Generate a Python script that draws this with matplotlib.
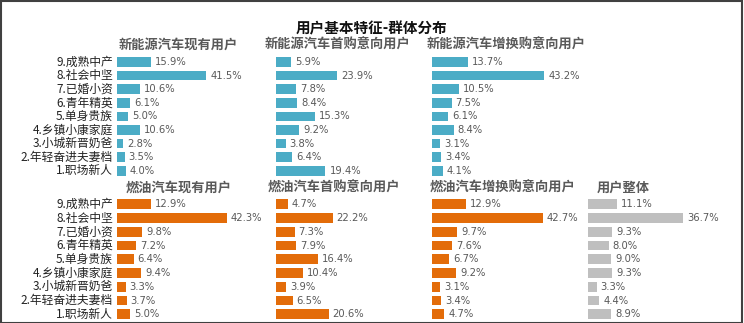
import matplotlib
matplotlib.use('Agg')
import matplotlib.pyplot as plt
from matplotlib.patches import Rectangle

plt.rcParams['font.family'] = ['Noto Sans CJK SC', 'DejaVu Sans']

# Data (percent)
categories = ['9.成熟中产', '8.社会中坚', '7.已婚小资', '6.青年精英', '5.单身贵族',
              '4.乡镇小康家庭', '3.小城新晋奶爸', '2.年轻奋进夫妻档', '1.职场新人']
ev_owner = [15.9, 41.5, 10.6, 6.1, 5.0, 10.6, 2.8, 3.5, 4.0]
ev_first = [5.9, 23.9, 7.8, 8.4, 15.3, 9.2, 3.8, 6.4, 19.4]
ev_replace = [13.7, 43.2, 10.5, 7.5, 6.1, 8.4, 3.1, 3.4, 4.1]
ice_owner = [12.9, 42.3, 9.8, 7.2, 6.4, 9.4, 3.3, 3.7, 5.0]
ice_first = [4.7, 22.2, 7.3, 7.9, 16.4, 10.4, 3.9, 6.5, 20.6]
ice_replace = [12.9, 42.7, 9.7, 7.6, 6.7, 9.2, 3.1, 3.4, 4.7]
all_users = [11.1, 36.7, 9.3, 8.0, 9.0, 9.3, 3.3, 4.4, 8.9]

title_main = '用户基本特征-群体分布'
titles_top = ['新能源汽车现有用户', '新能源汽车首购意向用户', '新能源汽车增换购意向用户']
titles_bottom = ['燃油汽车现有用户', '燃油汽车首购意向用户', '燃油汽车增换购意向用户', '用户整体']

W, H = 744, 323
c_blue = '#4BACC6'
c_orange = '#E36C09'
c_gray = '#BFBFBF'
c_text = '#595959'

fig = plt.figure(figsize=(W / 100, H / 100), dpi=100)


def fx(px):
    return px / W


def fy(py):
    return 1 - py / H


# panel: (values, color, bar start px, px per %, row top px, row spacing px)
panels = [
    (ev_owner, c_blue, 117, 2.15, 55.2, 13.6),
    (ev_first, c_blue, 276, 2.55, 55.2, 13.6),
    (ev_replace, c_blue, 432, 2.6, 55.2, 13.6),
    (ice_owner, c_orange, 117, 2.6, 197.4, 13.75),
    (ice_first, c_orange, 276, 2.55, 197.4, 13.75),
    (ice_replace, c_orange, 432, 2.6, 197.4, 13.75),
    (all_users, c_gray, 588, 2.6, 197.4, 13.75),
]

panel_w = 140
n = len(categories)
for i, (vals, col, x0, scale, top, sp) in enumerate(panels):
    h = n * sp
    ax = fig.add_axes([fx(x0), fy(top + h), fx(panel_w), h / H])
    ypos = list(range(n))
    ax.barh(ypos, vals, height=0.72, color=col)
    ax.set_xlim(0, panel_w / scale)
    ax.set_ylim(n - 0.5, -0.5)
    ax.axis('off')
    for y, v in zip(ypos, vals):
        ax.text(v + 4 / scale, y, '%.1f%%' % v, va='center', ha='left',
                fontsize=7.2, color=c_text, family=['DejaVu Sans'])
    if x0 == 117:
        for y, lab in zip(ypos, categories):
            ax.text(-4 / scale, y, lab, va='center', ha='right',
                    fontsize=8.5, color='#222222')

fig.text(fx(372), fy(28), title_main, ha='center', va='center',
         fontsize=10.5, fontweight='bold', color='#111111')
for t, cx in zip(titles_top, [178, 338, 506]):
    fig.text(fx(cx), fy(45), t, ha='center', va='center',
             fontsize=9.5, fontweight='bold', color=c_text)
for t, cx in zip(titles_bottom, [179, 334, 503, 623]):
    fig.text(fx(cx), fy(188), t, ha='center', va='center',
             fontsize=9.5, fontweight='bold', color=c_text)

# thin frame around the picture
fig.patches.append(Rectangle((0.001, 0.0), 0.996, 0.998, transform=fig.transFigure,
                             fill=False, edgecolor='#404040', linewidth=1.5))

fig.savefig('out.png', dpi=100)
plt.close()
